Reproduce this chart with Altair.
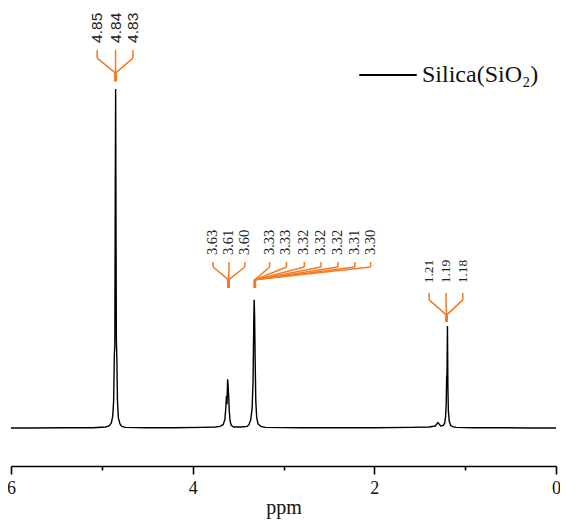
import altair as alt
import pandas as pd

# ---------------- spectrum ----------------
spec_ppm = [6.00, 5.80, 5.40, 5.10, 4.96, 4.92, 4.895, 4.880, 4.870, 4.862, 4.857, 4.852, 4.848,
            4.844, 4.840, 4.834, 4.828, 4.818, 4.800, 4.780, 4.740, 4.50, 4.20, 3.90, 3.75,
            3.700, 3.665, 3.645, 3.635, 3.628, 3.622, 3.615, 3.610, 3.603, 3.597, 3.588, 3.575,
            3.550, 3.470, 3.400, 3.380, 3.360, 3.345, 3.335, 3.328, 3.323, 3.318, 3.312, 3.305,
            3.295, 3.280, 3.250, 3.200, 2.80, 2.40, 2.00, 1.60, 1.40, 1.33, 1.30, 1.27,
            1.240, 1.225, 1.215, 1.208, 1.204, 1.200, 1.195, 1.190, 1.185, 1.175, 1.160, 1.140,
            1.100, 0.90, 0.60, 0.30, 0.00]
spec_int = [0.0, 0.0, 0.1, 0.1, 0.3, 0.6, 1.5, 3.5, 8.0, 22.0, 24.0, 70.0, 100.0,
            60.0, 26.0, 20.0, 8.0, 3.0, 1.2, 0.5, 0.2, 0.1, 0.1, 0.2, 0.3,
            0.5, 1.0, 2.5, 6.0, 9.5, 7.0, 14.4, 12.5, 9.0, 5.0, 2.0, 0.8,
            0.3, 0.3, 0.5, 1.0, 2.5, 6.0, 14.0, 30.0, 37.8, 33.0, 20.0, 8.0,
            3.0, 1.2, 0.5, 0.2, 0.1, 0.1, 0.1, 0.2, 0.3, 0.6, 1.6, 0.6,
            0.8, 1.5, 3.5, 8.0, 15.0, 16.0, 30.1, 12.0, 5.0, 2.0, 0.8, 0.4,
            0.2, 0.1, 0.1, 0.0, 0.0]
series_name = "Silica(SiO\u2082)"

# ---------------- peak annotations ----------------
g1_text = ["4.85", "4.84", "4.83"]
g1_ppm = [5.051, 4.849, 4.658]
g1_peak = 4.849
g1_lv = [113.6, 111.5, 109.1, 104.7, 102.2]   # label base, tick top, tick bottom, join, stem end

g2_text = ["3.63", "3.61", "3.60"]
g2_ppm = [3.775, 3.600, 3.426]
g2_peak = 3.605
g2_lv = [51.0, 49.0, 47.5, 43.7, 41.3]

g3_text = ["3.33", "3.33", "3.32", "3.32", "3.32", "3.31", "3.30"]
g3_ppm = [3.153, 2.967, 2.771, 2.586, 2.400, 2.215, 2.040]
g3_peak = 3.316
g3_lv = [51.0, 49.0, 47.5, 43.7, 41.3]

g4_text = ["1.21", "1.19", "1.18"]
g4_ppm = [1.397, 1.211, 1.026]
g4_peak = 1.205
g4_lv = [42.7, 39.8, 37.8, 33.3, 31.3]

ORANGE = "#F47A22"

groups = [(g1_text, g1_ppm, g1_peak, g1_lv, "sans"),
          (g2_text, g2_ppm, g2_peak, g2_lv, "serif"),
          (g3_text, g3_ppm, g3_peak, g3_lv, "serif"),
          (g4_text, g4_ppm, g4_peak, g4_lv, "serif4")]

seg_rows, stem_rows, lab_rows = [], [], []
for texts, ppms, peak, lv, font in groups:
    base, ttop, tbot, join, stem = lv
    for t, p in zip(texts, ppms):
        seg_rows.append(dict(x=p, y=ttop, x2=p, y2=tbot))
        seg_rows.append(dict(x=p, y=tbot, x2=peak, y2=join))
        lab_rows.append(dict(x=p, y=base, text=t, font=font))
    stem_rows.append(dict(x=peak, y=join, x2=peak, y2=stem))

spec_df = pd.DataFrame({"ppm": spec_ppm, "intensity": spec_int, "series": series_name})
seg_df = pd.DataFrame(seg_rows)
stem_df = pd.DataFrame(stem_rows)
lab_df = pd.DataFrame(lab_rows)

xs = alt.Scale(domain=[0, 6], reverse=True, nice=False, zero=False)
ys = alt.Scale(domain=[-11.2, 123.3], nice=False, zero=False)

spectrum = alt.Chart(spec_df).mark_line(strokeWidth=1.4).encode(
    x=alt.X("ppm:Q", scale=xs, axis=alt.Axis(
        values=[6, 5, 4, 3, 2, 1, 0], format="d",
        labelExpr="datum.value % 2 == 0 ? datum.label : ''",
        tickSize={"condition": {"test": "datum.value % 2 == 0", "value": 8}, "value": 4},
        title="ppm", titleFont="Liberation Serif", titleFontSize=20, titleFontWeight="normal",
        titleColor="#111", titlePadding=0,
        labelFont="Liberation Serif", labelFontSize=18, labelColor="#111", labelPadding=5,
        labelFlush=False, labelOverlap=False,
        domainColor="black", domainWidth=1.6, tickColor="black", tickWidth=1.6, grid=False)),
    y=alt.Y("intensity:Q", scale=ys, axis=None),
    color=alt.Color("series:N", scale=alt.Scale(range=["black"]), legend=alt.Legend(
        title=None, orient="none", legendX=347, legendY=35, symbolType="stroke",
        symbolSize=3300, symbolStrokeWidth=2, labelFont="Liberation Serif", labelFontSize=24,
        labelColor="#111", labelOffset=4, padding=0, labelLimit=400)),
)

segs = alt.Chart(seg_df).mark_rule(color=ORANGE, strokeWidth=1.5).encode(
    x=alt.X("x:Q", scale=xs), y=alt.Y("y:Q", scale=ys), x2="x2:Q", y2="y2:Q")
stems = alt.Chart(stem_df).mark_rule(color=ORANGE, strokeWidth=3).encode(
    x=alt.X("x:Q", scale=xs), y=alt.Y("y:Q", scale=ys), x2="x2:Q", y2="y2:Q")

lab_sans = alt.Chart(lab_df).transform_filter("datum.font == 'sans'").mark_text(
    angle=270, align="left", baseline="middle", font="Liberation Sans", fontSize=15.5,
    color="#222").encode(x=alt.X("x:Q", scale=xs), y=alt.Y("y:Q", scale=ys), text="text:N")
lab_serif = alt.Chart(lab_df).transform_filter("datum.font == 'serif'").mark_text(
    angle=270, align="left", baseline="middle", font="Liberation Serif", fontSize=14.5,
    color="#222").encode(x=alt.X("x:Q", scale=xs), y=alt.Y("y:Q", scale=ys), text="text:N")
lab_serif4 = alt.Chart(lab_df).transform_filter("datum.font == 'serif4'").mark_text(
    angle=270, align="left", baseline="middle", font="Liberation Serif", fontSize=13.5,
    color="#222").encode(x=alt.X("x:Q", scale=xs), y=alt.Y("y:Q", scale=ys), text="text:N")

chart = alt.layer(spectrum, segs, stems, lab_sans, lab_serif, lab_serif4).properties(
    width=545, height=456,
    autosize=alt.AutoSizeParams(type="none"),
    padding={"left": 3, "top": 2, "right": 4, "bottom": 53},
).configure_view(stroke=None)

chart.save("out.html", embed_options={"renderer": "svg", "actions": False})
